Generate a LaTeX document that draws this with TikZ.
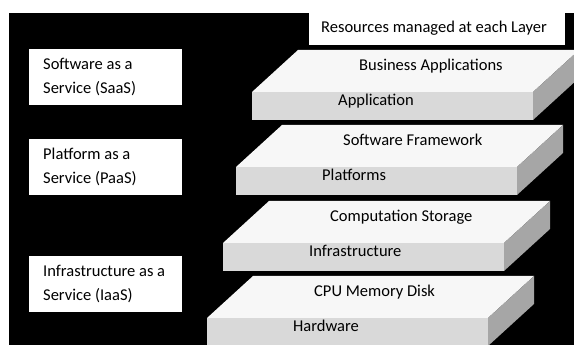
\documentclass[tikz,border=0pt]{standalone}
\usepackage{fontspec}
\setmainfont{Carlito}
\usetikzlibrary{positioning}

\begin{document}
\begin{tikzpicture}[x=1pt, y=1pt,
    txt/.style={font=\fontsize{16.5}{24}\selectfont, anchor=base west, inner sep=0pt},
    topface/.style={fill=gray!6},
    frontface/.style={fill=gray!30},
    sideface/.style={fill=gray!70}
]
\useasboundingbox (0,0) rectangle (574,345);
\clip (0,0) rectangle (574,345);

% BACKGROUND
\fill[white] (0,0) rectangle (574,345);
\fill[black] (9,0) rectangle (574,332);

% HEADER
\fill[white] (309,300) rectangle (565,345);
\node[txt] (header) at (321,312) {Resources managed at each Layer};

% LAYERS (front left corner x / front top y)
\foreach \x/\y/\toplbl/\frontlbl [count=\i] in {252/253/Business Applications/Application,
    236/178/Software Framework/Platforms,
    223/102/Computation Storage/Infrastructure,
    207/27/CPU Memory Disk/Hardware} {
    \fill[topface] (\x,\y) -- ++(46,42) -- ++(281,0) -- ++(-46,-42) -- cycle;
    \fill[frontface] (\x,\y) rectangle ++(281,-28);
    \fill[sideface] (\x+281,\y) -- ++(46,42) -- ++(0,-28) -- ++(-46,-42) -- cycle;
    \node[txt] (top\i) at (\x+107,\y+21) {\toplbl};
    \node[txt] (front\i) at (\x+86,\y-14) {\frontlbl};
}

% SERVICE MODELS
\foreach \y/\first/\second [count=\i] in {296/Software as a/Service (SaaS),
    206/Platform as a/Service (PaaS),
    89/Infrastructure as a/Service (IaaS)} {
    \fill[white] (29,\y) rectangle ++(153,-56);
    \node[txt] (svc\i-a) at (43,\y-21) {\first};
    \node[txt] (svc\i-b) at (43,\y-45) {\second};
}

\end{tikzpicture}
\end{document}
